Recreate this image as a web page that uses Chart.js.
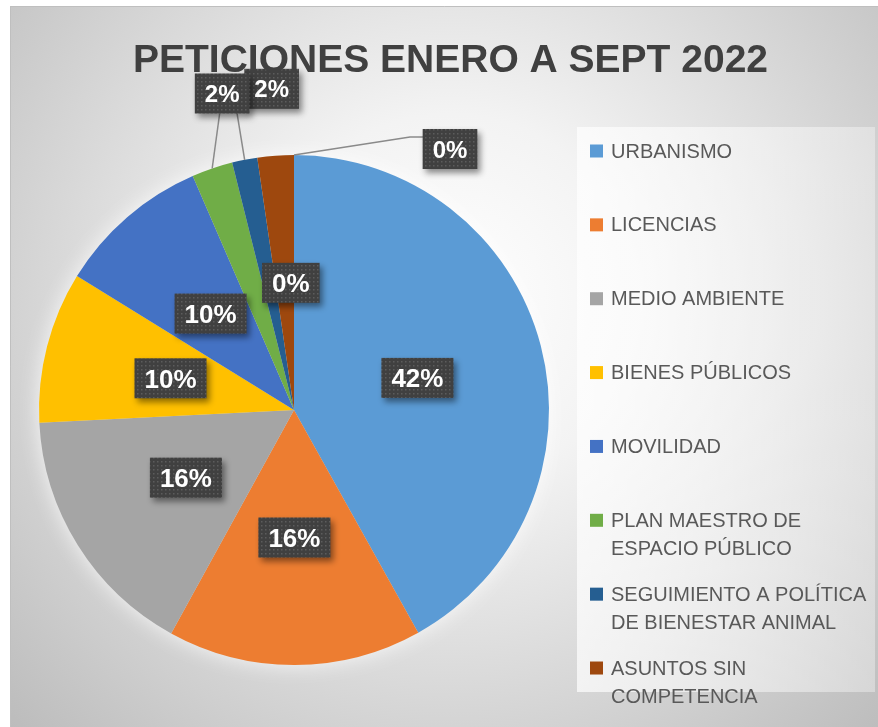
<!DOCTYPE html>
<html>
<head>
<meta charset="utf-8">
<script src="https://cdn.jsdelivr.net/npm/chart.js@4.4.1/dist/chart.umd.min.js"></script>
<style>
  html, body { margin: 0; padding: 0; background: #ffffff; }
  #wrap { position: relative; width: 878px; height: 727px; }
</style>
</head>
<body>
<div id="wrap"><canvas id="c"></canvas></div>
<script>
// ---- data ----
const chartTitle = 'PETICIONES ENERO A SEPT 2022';
const categories = [
  'URBANISMO',
  'LICENCIAS',
  'MEDIO AMBIENTE',
  'BIENES PÚBLICOS',
  'MOVILIDAD',
  'PLAN MAESTRO DE ESPACIO PÚBLICO',
  'SEGUIMIENTO A POLÍTICA DE BIENESTAR ANIMAL',
  'ASUNTOS SIN COMPETENCIA',
  ''
];
const shares = [41.9, 16.1, 16.2, 9.6, 9.7, 2.6, 1.6, 2.3, 0];
const pctLabels = ['42%', '16%', '16%', '10%', '10%', '2%', '2%', '0%', '0%'];
const sliceColors = ['#5B9BD5', '#ED7D31', '#A5A5A5', '#FFC000', '#4472C4', '#70AD47', '#255E91', '#9E480E', '#636363'];

// ---- label styling (placement only, no data) ----
const labelMode = ['in', 'in', 'in', 'in', 'in', 'out', 'out', 'in', 'out'];
const labelShift = [[0,0],[0,0],[0,0],[0,0],[0,0],[10,-75],[27,-71],[6,0],[156,-6]];
const leaderPath = { 5: [[-2.5, 20]], 6: [[-35, 22]], 8: [[-40, -12], [-27, -12]] };
const boxOrder = [0, 1, 2, 3, 4, 6, 5, 7, 8];

function makePattern(ctx) {
  const t = document.createElement('canvas');
  t.width = 4; t.height = 4;
  const g = t.getContext('2d');
  g.fillStyle = '#404040'; g.fillRect(0, 0, 4, 4);
  g.fillStyle = '#5c5c5c'; g.fillRect(1, 1, 1.5, 1.5);
  return ctx.createPattern(t, 'repeat');
}

const framePlugin = {
  id: 'frame',
  beforeDraw(chart) {
    const ctx = chart.ctx;
    ctx.save();
    ctx.fillStyle = '#ffffff';
    ctx.fillRect(0, 0, chart.width, chart.height);
    const g = ctx.createRadialGradient(450, 300, 0, 450, 300, 620);
    g.addColorStop(0, '#ffffff');
    g.addColorStop(0.3, '#f3f3f3');
    g.addColorStop(1, '#bbbbbb');
    ctx.fillStyle = g;
    ctx.fillRect(10, 6, chart.width - 10, chart.height - 6);
    ctx.strokeStyle = '#bfbfbf';
    ctx.lineWidth = 1;
    ctx.beginPath();
    ctx.moveTo(10.5, chart.height); ctx.lineTo(10.5, 6.5); ctx.lineTo(chart.width, 6.5);
    ctx.stroke();
    // legend panel
    const lg = ctx.createLinearGradient(577, 0, 875, 0);
    lg.addColorStop(0, 'rgba(255,255,255,0.7)');
    lg.addColorStop(1, 'rgba(255,255,255,0.35)');
    ctx.fillStyle = lg;
    ctx.fillRect(577, 127, 298, 565);
    ctx.restore();
  },
  beforeDatasetsDraw(chart) {
    const meta = chart.getDatasetMeta(0);
    const a = meta.data[0];
    if (!a) return;
    const p = a.getProps(['x', 'y', 'outerRadius'], true);
    const ctx = chart.ctx;
    ctx.save();
    ctx.shadowColor = 'rgba(255,255,255,0.85)';
    ctx.shadowBlur = 22;
    ctx.fillStyle = '#dddddd';
    ctx.beginPath();
    ctx.arc(p.x, p.y, p.outerRadius - 1, 0, Math.PI * 2);
    ctx.fill();
    ctx.restore();
  }
};

const labelPlugin = {
  id: 'pctLabels',
  afterDatasetsDraw(chart) {
    const ctx = chart.ctx;
    const meta = chart.getDatasetMeta(0);
    const pattern = makePattern(ctx);
    const info = [];
    meta.data.forEach((arc, i) => {
      const p = arc.getProps(['x', 'y', 'startAngle', 'endAngle', 'outerRadius'], true);
      const mid = (p.startAngle + p.endAngle) / 2;
      let cx, cy, ax, ay;
      ax = p.x + Math.cos(mid) * p.outerRadius;
      ay = p.y + Math.sin(mid) * p.outerRadius;
      if (labelMode[i] === 'in') {
        cx = p.x + Math.cos(mid) * p.outerRadius * 0.5 + labelShift[i][0];
        cy = p.y + Math.sin(mid) * p.outerRadius * 0.5 + labelShift[i][1];
      } else {
        cx = ax + labelShift[i][0];
        cy = ay + labelShift[i][1];
      }
      info[i] = { cx, cy, ax, ay };
    });
    // leader lines
    ctx.save();
    ctx.strokeStyle = '#8a8a8a';
    ctx.lineWidth = 1.5;
    Object.keys(leaderPath).forEach(k => {
      const i = +k; const L = info[i]; if (!L) return;
      ctx.beginPath();
      ctx.moveTo(L.ax, L.ay);
      leaderPath[k].forEach(pt => ctx.lineTo(L.cx + pt[0], L.cy + pt[1]));
      ctx.stroke();
    });
    ctx.restore();
    // boxes
    boxOrder.forEach(i => {
      const L = info[i]; if (!L) return;
      const size = labelMode[i] === 'in' ? 26 : 24;
      ctx.save();
      ctx.font = 'bold ' + size + 'px "Liberation Sans", Arial, sans-serif';
      const tw = ctx.measureText(pctLabels[i]).width;
      const w = tw + 20, h = 40;
      ctx.shadowColor = 'rgba(0,0,0,0.45)';
      ctx.shadowBlur = 6;
      ctx.shadowOffsetX = 3;
      ctx.shadowOffsetY = 4;
      ctx.fillStyle = pattern;
      ctx.fillRect(L.cx - w / 2, L.cy - h / 2, w, h);
      ctx.shadowColor = 'transparent';
      ctx.fillStyle = '#ffffff';
      ctx.textAlign = 'center';
      ctx.textBaseline = 'alphabetic';
      ctx.fillText(pctLabels[i], L.cx, L.cy + size * 0.716 / 2);
      ctx.restore();
    });
  }
};

function wrapWords(ctx, text, maxW) {
  const words = text.split(' ');
  const lines = [];
  let cur = '';
  words.forEach(w => {
    const t = cur ? cur + ' ' + w : w;
    if (ctx.measureText(t).width > maxW && cur) { lines.push(cur); cur = w; }
    else cur = t;
  });
  if (cur) lines.push(cur);
  return lines;
}

const legendTitlePlugin = {
  id: 'legendTitle',
  afterDraw(chart) {
    const ctx = chart.ctx;
    const labels = chart.data.labels;
    const colors = chart.data.datasets[0].backgroundColor;
    ctx.save();
    ctx.font = '20px "Liberation Sans", Arial, sans-serif';
    ctx.textAlign = 'left';
    ctx.textBaseline = 'middle';
    let idx = 0;
    labels.forEach((lab, i) => {
      if (!lab) return;
      const y0 = 151 + 73.86 * idx;
      ctx.fillStyle = colors[i];
      ctx.fillRect(590, y0 - 6.5, 13, 13);
      ctx.fillStyle = '#595959';
      wrapWords(ctx, lab, 262).forEach((ln, j) => ctx.fillText(ln, 611, y0 + 1 + j * 28.5));
      idx++;
    });
    // title
    ctx.font = 'bold 39px "Liberation Sans", Arial, sans-serif';
    ctx.fillStyle = '#404040';
    ctx.textAlign = 'center';
    ctx.textBaseline = 'alphabetic';
    ctx.fillText(chartTitle, 450.5, 72);
    ctx.restore();
  }
};

new Chart(document.getElementById('c'), {
  type: 'pie',
  data: {
    labels: categories,
    datasets: [{
      data: shares,
      backgroundColor: sliceColors,
      borderWidth: 0
    }]
  },
  options: {
    responsive: true,
    maintainAspectRatio: false,
    animation: false,
    events: [],
    layout: { padding: { left: 39, right: 329, top: 155, bottom: 62 } },
    plugins: {
      legend: { display: false },
      title: { display: false },
      tooltip: { enabled: false }
    }
  },
  plugins: [framePlugin, labelPlugin, legendTitlePlugin]
});
</script>
</body>
</html>
